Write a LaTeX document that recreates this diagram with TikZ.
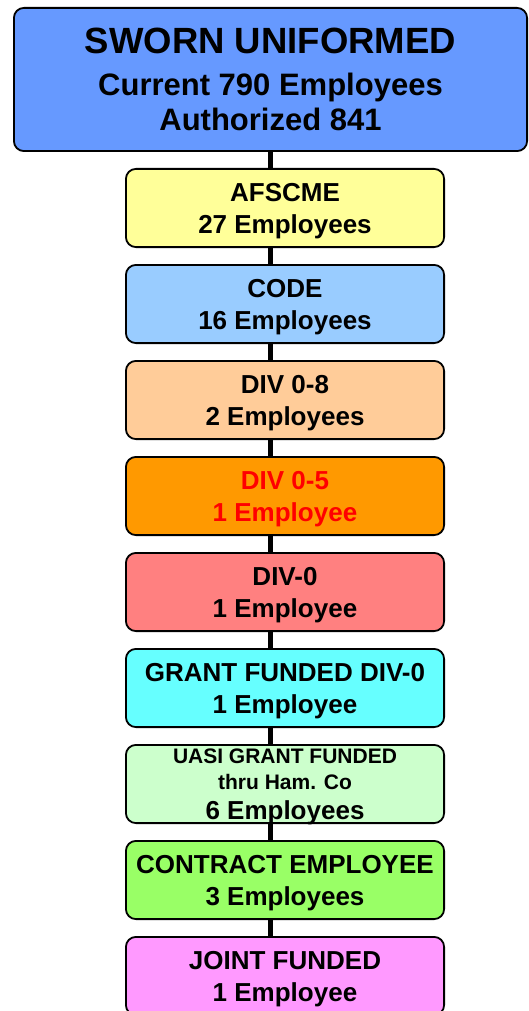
\documentclass[tikz,border=0pt]{standalone}
\usepackage{fontspec}
\setmainfont{Liberation Sans}
\usepackage{tikz}
\usetikzlibrary{positioning}

\definecolor{swornblue}{HTML}{6699FF}
\definecolor{afscmeyellow}{HTML}{FFFF99}
\definecolor{codeblue}{HTML}{99CCFF}
\definecolor{diveight}{HTML}{FFCC99}
\definecolor{divfive}{HTML}{FF9900}
\definecolor{divzero}{HTML}{FF8080}
\definecolor{grantcyan}{HTML}{66FFFF}
\definecolor{uasigreen}{HTML}{CCFFCC}
\definecolor{contractgreen}{HTML}{99FF66}
\definecolor{jointpink}{HTML}{FF99FF}

\begin{document}
\begin{tikzpicture}[x=1pt,y=1pt,
  every node/.style={draw=black, line width=1.8pt, rounded corners=10pt, align=center,
    font=\bfseries\fontsize{26}{32}\selectfont, inner sep=0pt, text depth=0pt},
  unit/.style={minimum width=318.2pt, minimum height=78.2pt, below=16pt of #1},
  spine/.style={line width=5.5pt}]
  \clip (0,0) rectangle (529,-1011);
  \node[fill=swornblue, minimum width=513.2pt, minimum height=143.2pt,
        font=\bfseries\fontsize{31}{35}\selectfont] (top) at (270.5,-79.5)
    {{\fontsize{36.5}{42}\selectfont SWORN UNIFORMED}\\[7pt]
     Current 790 Employees\\Authorized 841};
  \node[unit=top, xshift=14.5pt, fill=afscmeyellow] (afscme) {AFSCME\\27 Employees};
  \node[unit=afscme, fill=codeblue] (code) {CODE\\16 Employees};
  \node[unit=code, fill=diveight] (div8) {DIV 0-8\\2 Employees};
  \node[unit=div8, fill=divfive, text=red] (div5) {DIV 0-5\\1 Employee};
  \node[unit=div5, fill=divzero] (div0) {DIV-0\\1 Employee};
  \node[unit=div0, fill=grantcyan] (grant) {GRANT FUNDED DIV-0\\1 Employee};
  \node[unit=grant, fill=uasigreen] (uasi)
    {{\fontsize{21}{26}\selectfont UASI GRANT FUNDED}\\[-6pt]
     {\fontsize{21}{26}\selectfont thru Ham. Co}\\[-2pt]6 Employees};
  \node[unit=uasi, fill=contractgreen] (contract) {CONTRACT EMPLOYEE\\3 Employees};
  \node[unit=contract, fill=jointpink] (joint) {JOINT FUNDED\\1 Employee};
  % spine between the boxes
  \foreach \a/\b in {top/afscme, afscme/code, code/div8, div8/div5, div5/div0,
                     div0/grant, grant/uasi, uasi/contract, contract/joint}
    \draw[spine] (\a.south -| top.south) -- (\b.north -| top.south);
\end{tikzpicture}
\end{document}
